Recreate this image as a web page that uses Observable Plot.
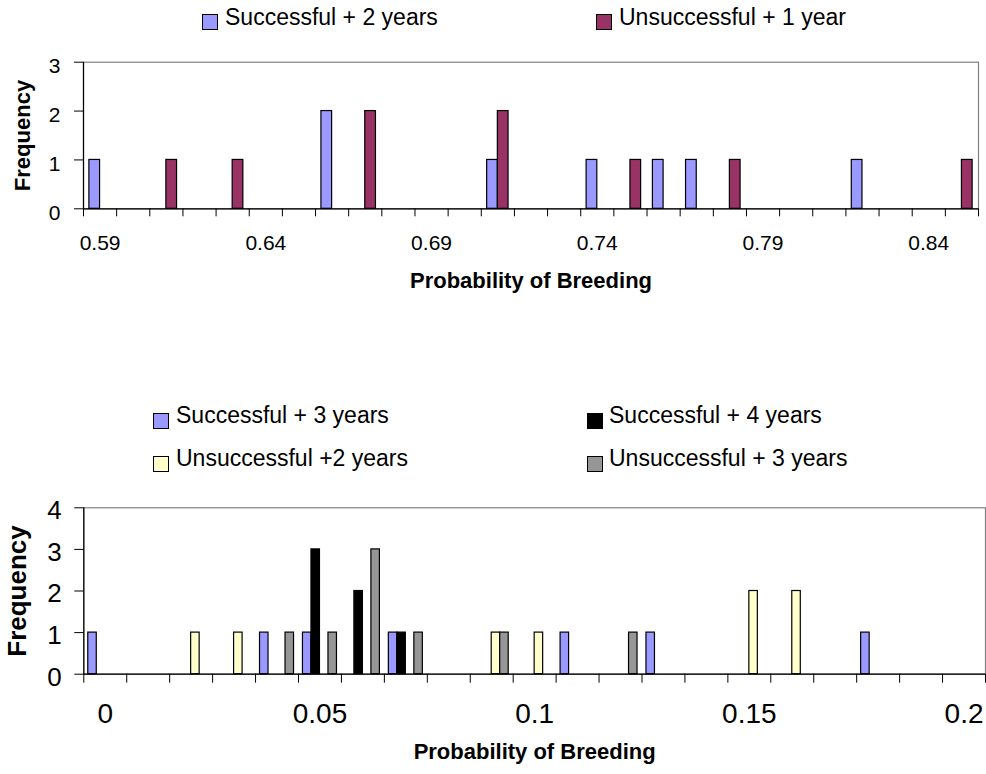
<!DOCTYPE html>
<html>
<head>
<meta charset="utf-8">
<script src="https://cdn.jsdelivr.net/npm/d3@7"></script>
<script src="https://cdn.jsdelivr.net/npm/@observablehq/plot@0.6"></script>
<style>
  body { margin: 0; background: #fff; font-family: "Liberation Sans", Arial, sans-serif; }
  #page { position: relative; width: 986px; height: 774px; overflow: hidden; background: #fff; }
  .chart { position: absolute; left: 0; }
  .key { position: absolute; font-size: 23px; line-height: 23px; white-space: nowrap; color: #000; }
  .sw { position: absolute; width: 14px; height: 14px; border: 1.3px solid #000; }
</style>
</head>
<body>
<div id="page"></div>
<script>
// Upper panel: probability of breeding, grouped in 0.01 steps
const topCategories = [0.59, 0.60, 0.61, 0.62, 0.63, 0.64, 0.65, 0.66, 0.67, 0.68, 0.69, 0.70, 0.71, 0.72,
  0.73, 0.74, 0.75, 0.76, 0.77, 0.78, 0.79, 0.80, 0.81, 0.82, 0.83, 0.84, 0.85];
const successfulPlus2 = [1, 0, 0, 0, 0, 0, 0, 2, 0, 0, 0, 0, 1, 0, 0, 1, 0, 1, 1, 0, 0, 0, 0, 1, 0, 0, 0];
const unsuccessfulPlus1 = [0, 0, 1, 0, 1, 0, 0, 0, 2, 0, 0, 0, 2, 0, 0, 0, 1, 0, 0, 1, 0, 0, 0, 0, 0, 0, 1];
const topTickLabels = [0.59, 0.64, 0.69, 0.74, 0.79, 0.84];
const topYTicks = [0, 1, 2, 3];

// Lower panel
const bottomCategories = [0.00, 0.01, 0.02, 0.03, 0.04, 0.05, 0.06, 0.07, 0.08, 0.09, 0.10, 0.11, 0.12,
  0.13, 0.14, 0.15, 0.16, 0.17, 0.18, 0.19, 0.20];
const successfulPlus3 = [1, 0, 0, 0, 1, 1, 0, 1, 0, 0, 0, 1, 0, 1, 0, 0, 0, 0, 1, 0, 0];
const successfulPlus4 = [0, 0, 0, 0, 0, 3, 2, 1, 0, 0, 0, 0, 0, 0, 0, 0, 0, 0, 0, 0, 0];
const unsuccessfulPlus2 = [0, 0, 1, 1, 0, 0, 0, 0, 0, 1, 1, 0, 0, 0, 0, 2, 2, 0, 0, 0, 0];
const unsuccessfulPlus3 = [0, 0, 0, 0, 1, 1, 3, 1, 0, 1, 0, 0, 1, 0, 0, 0, 0, 0, 0, 0, 0];
const bottomTickLabels = [0, 0.05, 0.1, 0.15, 0.2];
const bottomYTicks = [0, 1, 2, 3, 4];

const page = document.getElementById("page");

// Clustered columns: each category is one 0.01-wide slot, series side by side inside it
function panel(cfg) {
  const step = 0.01;
  const n = cfg.series.length;
  const bw = step / (n + cfg.gap);
  const rows = [];
  cfg.series.forEach((s, si) => {
    s.values.forEach((v, i) => {
      if (v > 0) {
        const x1 = cfg.categories[i] - step / 2 + cfg.gap * bw / 2 + si * bw;
        rows.push({name: s.name, count: v, x1, x2: x1 + bw});
      }
    });
  });
  const lo = cfg.categories[0] - step / 2;
  const hi = cfg.categories[cfg.categories.length - 1] + step / 2;
  const bounds = cfg.categories.map(c => c - step / 2).concat([hi]);

  const svg = Plot.plot({
    width: 986,
    height: cfg.height,
    marginTop: cfg.marginTop,
    marginBottom: cfg.marginBottom,
    marginLeft: cfg.marginLeft,
    marginRight: cfg.marginRight,
    style: {fontFamily: "'Liberation Sans', Arial, sans-serif", color: "#000", background: "#fff", overflow: "visible"},
    x: {type: "linear", domain: [lo, hi]},
    y: {domain: [0, cfg.yTicks[cfg.yTicks.length - 1]]},
    color: {domain: cfg.series.map(s => s.name), range: cfg.series.map(s => s.color)},
    marks: [
      Plot.frame({stroke: "#808080", strokeWidth: 1.2}),
      Plot.rectY(rows, {x1: "x1", x2: "x2", y1: 0, y2: "count", fill: "name", stroke: "#000", strokeWidth: 1.2}),
      Plot.ruleY([0], {stroke: "#000", strokeWidth: 1.2}),
      Plot.ruleX([lo], {stroke: "#000", strokeWidth: 1.2}),
      Plot.axisY({ticks: cfg.yTicks, tickSize: 9, tickFormat: () => "", label: null}),
      Plot.axisY({ticks: cfg.yTicks, tickSize: 0, tickPadding: cfg.yPad, fontSize: cfg.yFont, dy: cfg.yDy,
        tickFormat: d => String(d), label: null}),
      Plot.axisX({ticks: bounds, tickSize: cfg.xTick, tickFormat: () => "", label: null}),
      Plot.axisX({ticks: cfg.tickLabels, tickSize: 0, tickPadding: cfg.xPad, fontSize: cfg.xFont,
        tickFormat: cfg.tickFormat, label: null}),
      Plot.text(["Frequency"], {text: d => d, frameAnchor: "left", textAnchor: "middle", rotate: -90,
        dx: cfg.freqDx, fontSize: cfg.freqFont, fontWeight: "bold"}),
      Plot.text(["Probability of Breeding"], {text: d => d, frameAnchor: "bottom", textAnchor: "middle",
        dy: cfg.titleDy, fontSize: 22, fontWeight: "bold"})
    ]
  });
  svg.classList.add("chart");
  svg.style.top = cfg.top + "px";
  page.appendChild(svg);

  cfg.series.forEach((s, si) => {
    const k = cfg.keys[si];
    const sw = document.createElement("div");
    sw.className = "sw";
    sw.style.left = k.sx + "px";
    sw.style.top = k.sy + "px";
    sw.style.background = s.color;
    page.appendChild(sw);
    const t = document.createElement("div");
    t.className = "key";
    t.style.left = k.tx + "px";
    t.style.top = k.ty + "px";
    t.textContent = s.name;
    page.appendChild(t);
  });
}

panel({
  top: 0, height: 310, marginTop: 61.7, marginBottom: 101.7, marginLeft: 83, marginRight: 8,
  categories: topCategories, gap: 1.1,
  series: [
    {name: "Successful + 2 years", values: successfulPlus2, color: "#9999ff"},
    {name: "Unsuccessful + 1 year", values: unsuccessfulPlus1, color: "#993366"}
  ],
  keys: [
    {sx: 202, sy: 14, tx: 225, ty: 5.5},
    {sx: 596, sy: 14, tx: 619, ty: 5.5}
  ],
  yTicks: topYTicks, yPad: 23, yFont: 21, yDy: 4,
  tickLabels: topTickLabels, tickFormat: d3.format(".2f"), xTick: 8, xPad: 26.5, xFont: 21,
  freqDx: -61, freqFont: 22, titleDy: 79
});

panel({
  top: 490, height: 284, marginTop: 17.3, marginBottom: 100.3, marginLeft: 83.3, marginRight: 1,
  categories: bottomCategories, gap: 1.05,
  series: [
    {name: "Successful + 3 years", values: successfulPlus3, color: "#9999ff"},
    {name: "Successful + 4 years", values: successfulPlus4, color: "#000000"},
    {name: "Unsuccessful +2 years", values: unsuccessfulPlus2, color: "#ffffcc"},
    {name: "Unsuccessful + 3 years", values: unsuccessfulPlus3, color: "#969696"}
  ],
  keys: [
    {sx: 153, sy: 413, tx: 176, ty: 404},
    {sx: 587, sy: 413, tx: 609, ty: 404},
    {sx: 153, sy: 456, tx: 176, ty: 447},
    {sx: 587, sy: 456, tx: 609, ty: 447}
  ],
  yTicks: bottomYTicks, yPad: 22, yFont: 26, yDy: 3,
  tickLabels: bottomTickLabels, tickFormat: d => String(d), xTick: 9, xPad: 29, xFont: 28,
  freqDx: -66, freqFont: 26, titleDy: 84.5
});
</script>
</body>
</html>
